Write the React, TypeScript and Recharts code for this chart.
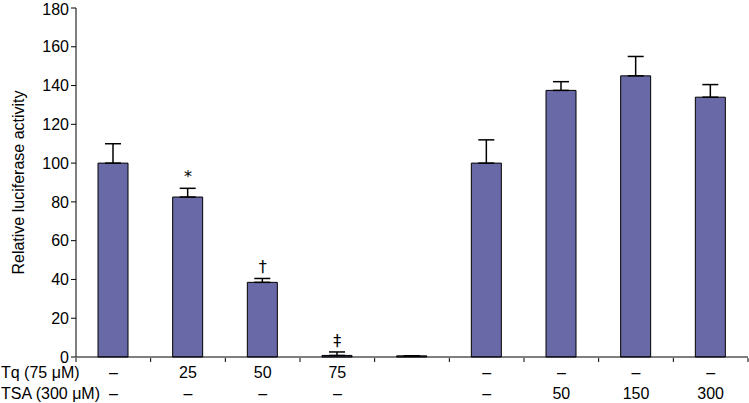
import { ComposedChart, Bar, Line, XAxis, YAxis, ErrorBar, LabelList } from "recharts";

const tq = ["–", "25", "50", "75", "", "–", "–", "–", "–"];
const tsa = ["–", "–", "–", "–", "", "–", "50", "150", "300"];
const activity = [100, 82.5, 38.5, 0.8, 0.6, 100, 137.5, 145, 134];
const errUp = [10, 4.5, 2, 1.8, 0, 12, 4.5, 10, 6.5];
const marks = ["", "*", "†", "‡", "", "", "", "", ""];
const edges = [0, 1, 2, 3, 4, 5, 6, 7, 8, 9];

const data = activity.map((v, i) => ({
  name: `c${i}`,
  pos: i + 0.5,
  value: v,
  err: [0, errUp[i]],
  top: v + errUp[i],
  mark: marks[i],
}));

const font = "'Liberation Sans', Arial, sans-serif";

// two rows of labels under each bar
const TwoRowTick = ({ x, y, payload }: any) => {
  const i = payload.index;
  return (
    <g fontFamily={font} fontSize={16}>
      {i === 0 && (
        <>
          <text x={1} y={y + 21} textAnchor="start" fill="#000">Tq (75 μM)</text>
          <text x={1} y={y + 42} textAnchor="start" fill="#000">TSA (300 μM)</text>
        </>
      )}
      <text x={x} y={y + 21} textAnchor="middle" fill="#000">{tq[i]}</text>
      <text x={x} y={y + 42} textAnchor="middle" fill="#000">{tsa[i]}</text>
    </g>
  );
};

const App = () => {
  return (
    <div style={{ position: "absolute", left: 0, top: 0, background: "#fff" }}>
      <ComposedChart
        width={749}
        height={403}
        data={data}
        margin={{ top: 8, right: 1, bottom: 0, left: 0 }}
      >
        <XAxis
          dataKey="name"
          height={1}
          stroke="#000"
          tickLine={false}
          tickSize={0}
          tickMargin={0}
          interval={0}
          tick={<TwoRowTick />}
        />
        <XAxis
          xAxisId="edges"
          dataKey="pos"
          type="number"
          domain={[0, 9]}
          ticks={edges}
          height={45}
          axisLine={false}
          tickSize={4}
          stroke="#000"
          interval={0}
          tick={{ fontSize: 1, fill: "none" }}
        />
        <YAxis
          width={76}
          domain={[0, 180]}
          ticks={[0, 20, 40, 60, 80, 100, 120, 140, 160, 180]}
          tickSize={5}
          stroke="#000"
          tick={{ fill: "#000", fontSize: 16, fontFamily: font }}
          label={{
            value: "Relative luciferase activity",
            angle: -90,
            position: "center",
            dx: -20,
            style: { fill: "#000", fontSize: 16, fontFamily: font },
          }}
        />
        <Bar dataKey="value" fill="#6969a8" stroke="#000" strokeWidth={1} barSize={30} isAnimationActive={false}>
          <ErrorBar dataKey="err" direction="y" width={8} stroke="#000" strokeWidth={1.5} />
        </Bar>
        <Line
          xAxisId="edges"
          dataKey="top"
          stroke="none"
          dot={false}
          activeDot={false}
          isAnimationActive={false}
        >
          <LabelList
            dataKey="mark"
            position="top"
            offset={6}
            style={{ fill: "#000", stroke: "none", fontSize: 16, fontFamily: "'DejaVu Sans', sans-serif" }}
          />
        </Line>
      </ComposedChart>
    </div>
  );
};

export default App;
